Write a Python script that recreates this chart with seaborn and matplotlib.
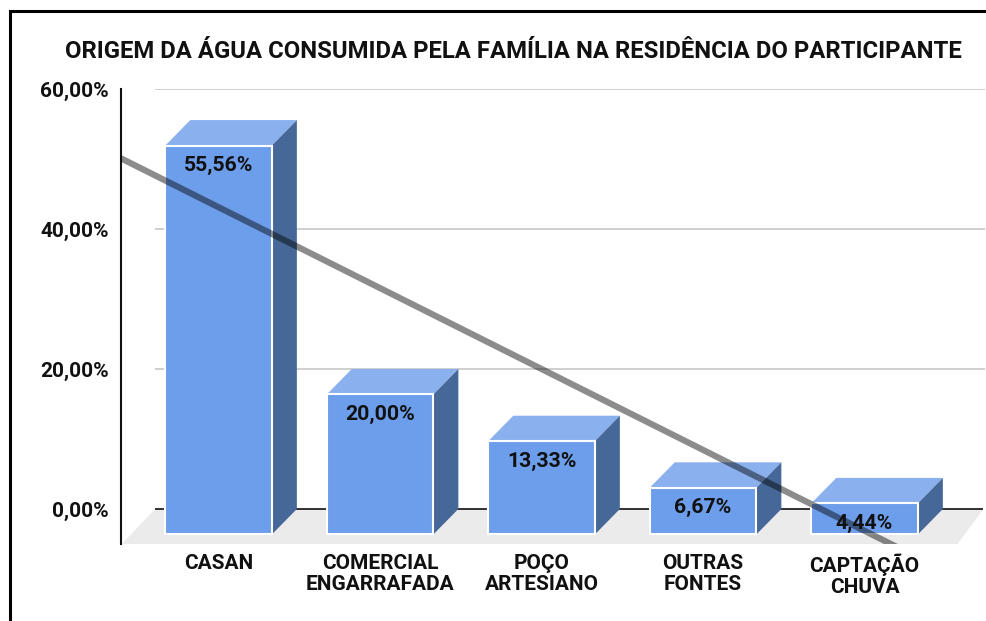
import matplotlib
matplotlib.use("Agg")
import matplotlib.pyplot as plt
import seaborn as sns
import numpy as np
from matplotlib.patches import Polygon, Rectangle
from matplotlib.ticker import FuncFormatter

categories = ["CASAN", "COMERCIAL\nENGARRAFADA", "POÇO\nARTESIANO", "OUTRAS\nFONTES", "CAPTAÇÃO\nCHUVA"]
values = [55.56, 20.00, 13.33, 6.67, 4.44]
yticks = [0, 20, 40, 60]
title = "ORIGEM DA ÁGUA CONSUMIDA PELA FAMÍLIA NA RESIDÊNCIA DO PARTICIPANTE"

sns.set_style("white")
plt.rcParams["font.family"] = ["Roboto", "DejaVu Sans"]
plt.rcParams["font.weight"] = "bold"

frontColor = "#6d9eeb"
topColor = "#8ab0ee"
sideColor = "#466898"

# fake 3d depth (in data units)
depthX = 0.155
depthY = 3.64
barWidth = 0.66

fig = plt.figure(figsize=(9.87, 6.21), dpi=100)
ax = fig.add_axes([121 / 987, 77 / 621, 864 / 987, 455 / 621])

xmin, xmax = -0.604, 4.746
ymin, ymax = -5, 60

# floor
ax.add_patch(Polygon([(xmin + 0.005, ymin), (xmin + 0.21, 0), (xmax - 0.01, 0), (xmax - 0.17, ymin)],
                     closed=True, facecolor="#ebebeb", edgecolor="none", zorder=0.5))

# back wall grid
ax.hlines([t for t in yticks if t != 0], xmin + 0.21, xmax, color="#cccccc", linewidth=1.3, zorder=0.6)
ax.hlines([0], xmin + 0.21, xmax - 0.01, color="#222222", linewidth=1.3, zorder=0.7)

sns.barplot(x=categories, y=values, color=frontColor, saturation=1, width=barWidth,
            edgecolor="white", linewidth=1.5, ax=ax, zorder=3)

for bar, v in zip(ax.patches[1:], values):
    bar.set_y(-depthY)
    x0 = bar.get_x()
    x1 = x0 + bar.get_width()
    top = v - depthY
    ax.add_patch(Polygon([(x0, top), (x1, top), (x1 + depthX, v), (x0 + depthX, v)],
                         closed=True, facecolor=topColor, edgecolor="none", zorder=2))
    ax.add_patch(Polygon([(x1, -depthY), (x1 + depthX, 0), (x1 + depthX, v), (x1, top)],
                         closed=True, facecolor=sideColor, edgecolor="none", zorder=2))
    ax.annotate(f"{v:.2f}".replace(".", ",") + "%", xy=(x0 + bar.get_width() / 2, top),
                xytext=(0, -14.4), textcoords="offset points", ha="center", va="center",
                fontsize=15.3, fontweight="bold", color="#111111", zorder=6)

# linear trendline
idx = np.arange(len(values))
slope, intercept = np.polyfit(idx, values, 1)
trendX = np.array([xmin, xmax])
ax.plot(trendX, intercept + slope * trendX, color="black", alpha=0.45, linewidth=4.5,
        solid_capstyle="butt", zorder=5)

ax.set_xlim(xmin, xmax)
ax.set_ylim(ymin, ymax)
ax.set_yticks(yticks)
ax.yaxis.set_major_formatter(FuncFormatter(lambda v, p: f"{v:.2f}".replace(".", ",") + "%"))
ax.set_xlabel("")
ax.set_ylabel("")
ax.tick_params(axis="both", length=0, labelsize=15, colors="#111111")
ax.tick_params(axis="y", pad=9)
ax.tick_params(axis="x", pad=7)
for lbl in ax.get_xticklabels():
    lbl.set_linespacing(1.12)
    lbl.set_fontweight("bold")
for lbl in ax.get_yticklabels():
    lbl.set_fontweight("bold")
ax.grid(False)
for side in ["top", "right", "bottom"]:
    ax.spines[side].set_visible(False)
ax.spines["left"].set_color("#111111")
ax.spines["left"].set_linewidth(1.5)
ax.spines["left"].set_zorder(4)

fig.text(513 / 987, 1 - 51 / 621, title, ha="center", va="center", fontsize=17.2,
         fontweight="bold", color="#111111")

# outer frame (top and left edges visible)
fig.patches.append(Rectangle((10 / 987, -0.2), 1.2, 1.2 - 10.5 / 621, transform=fig.transFigure,
                             facecolor="none", edgecolor="black", linewidth=2.2))

fig.savefig("out.png", dpi=100)
